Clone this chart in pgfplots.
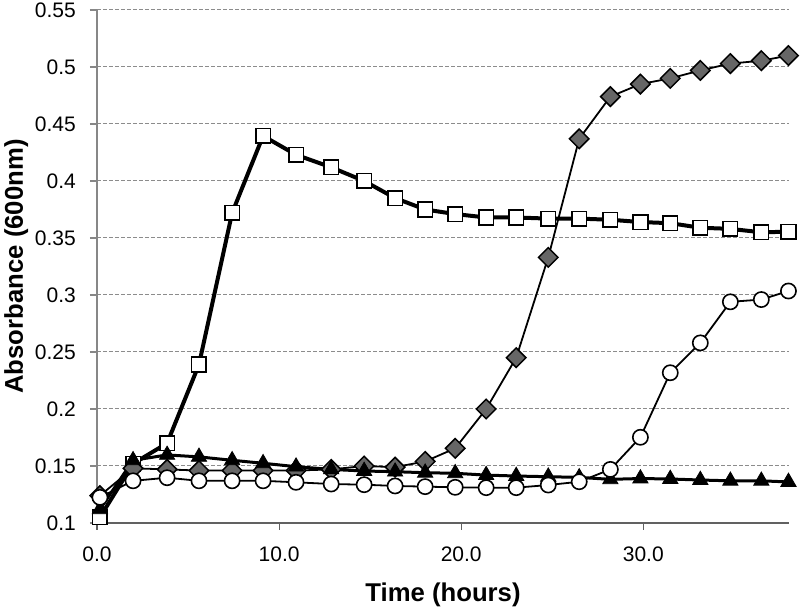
\documentclass[border=0pt]{standalone}
\usepackage{fontspec}
\setmainfont{Liberation Sans}
\usepackage{pgfplots}
\pgfplotsset{compat=1.18}
\usepackage{pgfplotstable}
\definecolor{spinegray}{HTML}{878787}
\definecolor{gridgray}{HTML}{8C8C8C}
\definecolor{diamfill}{HTML}{666666}
\pgfplotstableread{
t sq di tr ci
0.16 0.105 0.124 0.112 0.1225
1.98 0.152 0.148 0.155 0.137
3.85 0.170 0.147 0.1597 0.1397
5.60 0.239 0.146 0.158 0.137
7.42 0.372 0.146 0.155 0.137
9.12 0.4395 0.146 0.1524 0.137
10.93 0.423 0.146 0.1494 0.1357
12.86 0.412 0.147 0.147 0.1342
14.67 0.400 0.150 0.1456 0.1336
16.37 0.385 0.149 0.145 0.1325
18.02 0.375 0.154 0.1441 0.1319
19.67 0.371 0.1655 0.1436 0.1313
21.37 0.368 0.200 0.142 0.131
23.02 0.368 0.245 0.1412 0.131
24.78 0.367 0.333 0.1406 0.1333
26.48 0.367 0.437 0.140 0.1362
28.19 0.366 0.474 0.1383 0.147
29.84 0.364 0.485 0.139 0.1752
31.48 0.363 0.490 0.1386 0.2318
33.13 0.359 0.497 0.1377 0.258
34.78 0.358 0.503 0.137 0.294
36.48 0.355 0.5055 0.137 0.296
37.97 0.3555 0.510 0.136 0.3035
}\datatable
\begin{document}
\begin{tikzpicture}
\begin{axis}[
  at={(0pt,0pt)}, anchor=south west,
  scale only axis, width=692pt, height=513pt,
  xmin=0, xmax=38, ymin=0.1, ymax=0.55,
  axis x line=bottom, axis y line=left,
  x axis line style={draw=black!62, line width=1.2pt, -},
  y axis line style={draw=spinegray, line width=1.2pt, -},
  xtick={0,10,20,30},
  ytick={0.1,0.15,0.2,0.25,0.3,0.35,0.4,0.45,0.5,0.55},
  tick align=outside,
  major tick length=7pt,
  x tick style={draw=black!62, line width=1.2pt},
  y tick style={draw=spinegray, line width=1.2pt},
  x tick label style={/pgf/number format/fixed, /pgf/number format/fixed zerofill, /pgf/number format/precision=1},
  y tick label style={/pgf/number format/fixed, /pgf/number format/precision=2},
  /pgf/number format/assume math mode=true,
  tick label style={font=\fontsize{21}{24}\selectfont, inner sep=0pt},
  yticklabel style={anchor=east, xshift=-14pt},
  xticklabel style={anchor=north, yshift=-17pt},
  ymajorgrids,
  grid style={draw=gridgray, line width=1pt, dash pattern=on 4pt off 2pt},
  xlabel={Time (hours)},
  ylabel={Absorbance (600nm)},
  label style={font=\fontsize{25.7}{30}\selectfont\bfseries, inner sep=0pt},
  xlabel style={at={(axis description cs:0.5,0)}, anchor=base, yshift=-78.7pt},
  ylabel style={at={([xshift=-74pt]axis description cs:0,0.5)}, anchor=base},
  clip=false,
]
\addplot[black, line width=4pt, mark=square*, mark size=7.3pt,
  mark options={fill=white, draw=black, line width=1.6pt}] table[x=t, y=sq] {\datatable};
\addplot[black, line width=1.8pt, mark=square*, mark size=6.9pt,
  mark options={fill=diamfill, draw=black, line width=1.5pt, rotate=45}] table[x=t, y=di] {\datatable};
\addplot[black, line width=3pt, mark=triangle*, mark size=8.8pt,
  mark options={fill=black, draw=black, line width=0.8pt}] table[x=t, y=tr] {\datatable};
\addplot[black, line width=1.8pt, mark=*, mark size=7.6pt,
  mark options={fill=white, draw=black, line width=1.6pt}] table[x=t, y=ci] {\datatable};
\end{axis}
\pgfresetboundingbox
\path[use as bounding box] (-97pt,-86pt) rectangle (703pt,523pt);
\end{tikzpicture}
\end{document}
